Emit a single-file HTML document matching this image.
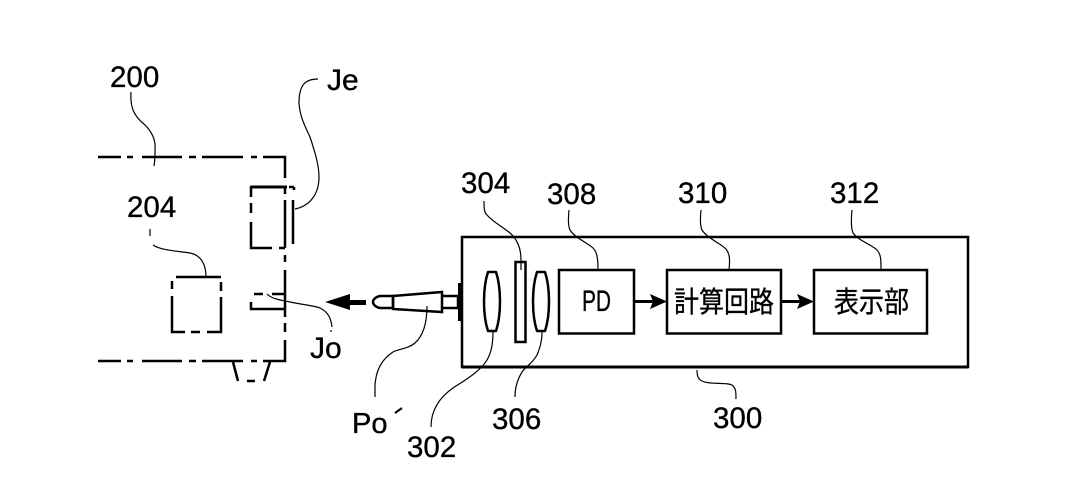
<!DOCTYPE html>
<html lang="ja">
<head>
<meta charset="utf-8">
<style>
html,body{margin:0;padding:0;background:#fff;width:1071px;height:504px;overflow:hidden}
svg{display:block}
text{font-family:"Liberation Sans","Noto Sans CJK JP",sans-serif;fill:#000;stroke:#000;stroke-width:.35}
.n{font-size:29.5px}
.l{fill:none;stroke:#000;stroke-width:1.2}
.s{fill:none;stroke:#000;stroke-width:2.5}
.t{fill:none;stroke:#000;stroke-width:3}
.f{fill:#000;stroke:none}
</style>
</head>
<body>
<svg width="1071" height="504" viewBox="0 0 1071 504" xmlns="http://www.w3.org/2000/svg">
<rect width="1071" height="504" fill="#fff"/>

<!-- 200 housing -->
<path class="s" d="M98 157H121M127 157H133M142 157H182M189 157H196M202 157H243M251 157H257M263 157H285V178M285 187V194M285 200V248M285 255V262M285 270V317M285 323V332M285 340V361H263M257 361H251M243 361H202M196 361H189M182 361H142M133 361H127M121 361H98"/>
<path class="s" d="M233 362L238 381M270 362L264 381M247 381H255"/>

<!-- Je -->
<path class="s" d="M251 197V187H287M289 187H294M294 187V190M251 203V213M251 222V248H272M279 248H285"/>
<path class="t" d="M251 187H287"/>
<path class="s" d="M293 200V244"/>

<!-- 204 -->
<path class="s" d="M176 277H221M172 281V289M172 296V332H185M191 332H200M207 332H221V297M221 291V282"/>

<!-- Jo -->
<path class="s" d="M254 294H263M272 294H285M251 302V309H285"/>

<!-- arrow to left -->
<path class="f" d="M325 302L350 294V310Z"/>
<rect class="f" x="349" y="300" width="17" height="5"/>

<!-- fiber -->
<path class="s" d="M393 296H381C377 296 373 299 373 302C373 305 377 308 381 308H393Z"/>
<path class="s" d="M393 296L442 292V312L393 309Z"/>
<path class="s" d="M442 296H458V308H442"/>
<rect x="458" y="283" width="5" height="38" fill="#000"/>

<!-- 300 housing -->
<rect class="s" x="462" y="237" width="506" height="130"/>
<path class="t" d="M462 367H968"/>

<!-- optics -->
<path class="s" d="M488 272H496C499 281 500 292 500 301.500C500 311 499 322 496 331H488C485 322 484 311 484 301.500C484 292 485 281 488 272Z" stroke-linejoin="round"/>
<rect class="s" x="515.500" y="262" width="10" height="80"/>
<path class="s" d="M537 272H545C548 281 549 292 549 301.500C549 311 548 322 545 331H537C534 322 533 311 533 301.500C533 292 534 281 537 272Z" stroke-linejoin="round"/>

<!-- blocks -->
<rect class="s" x="559" y="270" width="75" height="63.500"/>
<rect class="s" x="667" y="270" width="114" height="63.500"/>
<rect class="s" x="814" y="270" width="113" height="63.500"/>

<!-- arrows -->
<rect class="f" x="634" y="300" width="20" height="3"/>
<path class="f" d="M667 301.500L650 294L653 301.500L650 309Z"/>
<rect class="f" x="781" y="300" width="20" height="3"/>
<path class="f" d="M814 301.500L797 294L800 301.500L797 309Z"/>

<!-- leaders -->
<path class="l" d="M131 92C130 108 134 116 145 125C152 132 156 140 155 150C155 156 155 161 154 166"/>
<path class="l" d="M318 79C305 79 299 85 299 103C300 118 306 128 310 137C315 152 319 165 319 177C319 194 310 206 295 209"/>
<path class="l" d="M150 229V236M153 245C160 250 176 251 190 253C200 255 206 263 206 277"/>
<path class="l" d="M267 294C272 299 280 300 290 302C305 305 316 306 320 308C328 312 331 318 332 327M331 330V332"/>
<path class="l" d="M427 306C427 322 424 335 415 343C408 349 398 349 393 352C382 359 376 370 375 385V397"/>
<path class="l" d="M493 331C493 345 491 353 487 360C480 372 462 382 453 388C443 395 431 407 431 427"/>
<path class="l" d="M542 332C542 343 539 350 537 355C532 364 526 366 522 372C517 380 515 388 515 397"/>
<path class="l" d="M484 201C484 208 484 212 487 215C493 222 503 227 510 233C518 240 521 250 521 260V270"/>
<path class="l" d="M569 210C568 220 568 226 570 230C575 238 588 243 593 248C597 252 598 258 598 270"/>
<path class="l" d="M701 210C700 220 700 226 702 230C707 238 720 243 726 249C730 254 730 260 729 270"/>
<path class="l" d="M852 210C851 220 851 228 853 233C859 241 872 245 877 250C881 254 881 260 881 270"/>
<path class="l" d="M697 370C697 376 698 379 702 381C710 385 726 382 732 385C736 388 736 392 736 399"/>

<!-- numbers -->
<text class="n" x="110" y="87">200</text>
<text class="n" x="127" y="217">204</text>
<text class="n" x="461" y="193">304</text>
<text class="n" x="547" y="204">308</text>
<text class="n" x="678" y="203">310</text>
<text class="n" x="830" y="203">312</text>
<text class="n" x="713" y="428">300</text>
<text class="n" x="492" y="429">306</text>
<text class="n" x="407" y="457">302</text>

<text x="327" y="90" font-size="30">Je</text>
<text x="310" y="358" font-size="30">Jo</text>
<text x="352" y="433" font-size="29">Po</text>
<path d="M395 413L402 408" stroke="#000" stroke-width="2" fill="none"/>

<!-- box labels -->
<text x="582" y="311" font-size="30" textLength="29" lengthAdjust="spacingAndGlyphs">PD</text>
<text x="674" y="312" font-size="29" textLength="100" lengthAdjust="spacingAndGlyphs">計算回路</text>
<text x="834" y="312" font-size="29" textLength="75" lengthAdjust="spacingAndGlyphs">表示部</text>
</svg>
</body>
</html>
